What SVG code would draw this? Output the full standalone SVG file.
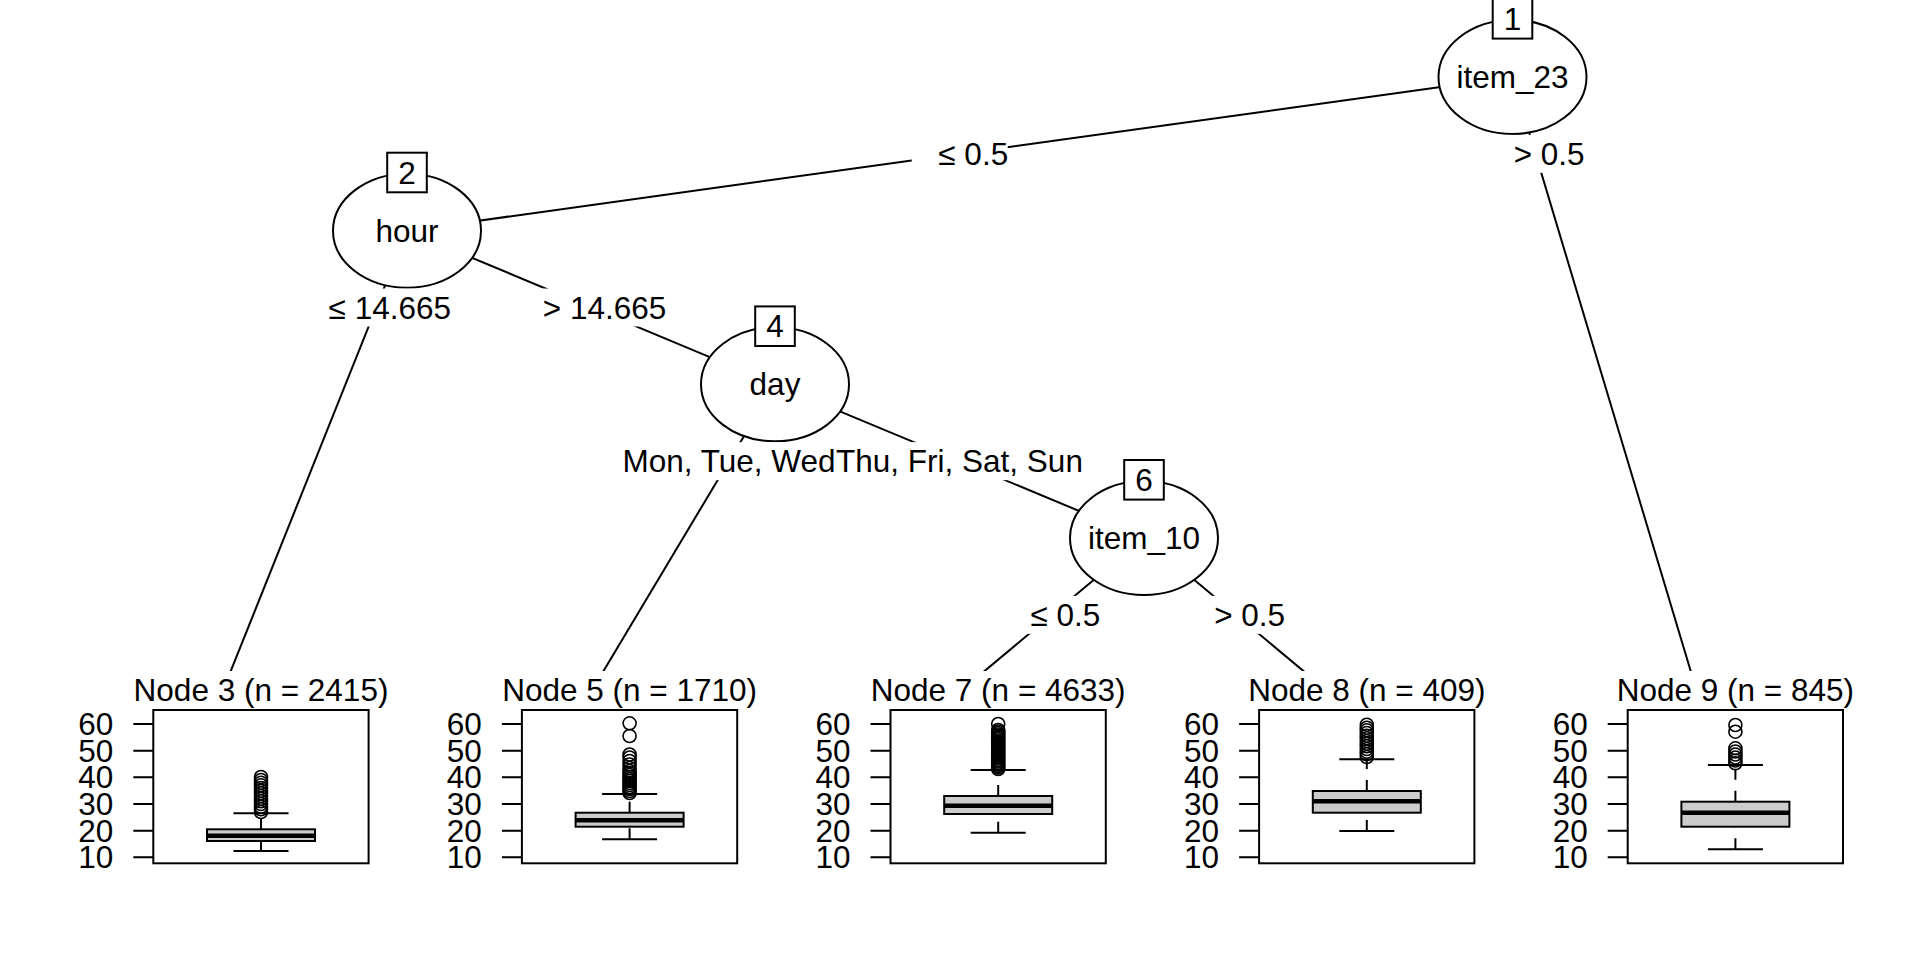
<svg xmlns="http://www.w3.org/2000/svg" width="1920" height="960" viewBox="0 0 1920 960">
<style>
text{font-family:"Liberation Sans",Arial,sans-serif;font-size:31.5px;fill:#000}
.m{text-anchor:middle}
.e{text-anchor:end}
.edge{stroke:#000;stroke-width:2;fill:none}
.ell{fill:#fff;stroke:#000;stroke-width:2}
.idb{fill:#fff;stroke:#000;stroke-width:2}
.bg{fill:#fff;stroke:none}
.panel{fill:#fff;stroke:#000;stroke-width:2}
.tick{stroke:#000;stroke-width:2;fill:none}
.box{fill:#cccccc;stroke:#000;stroke-width:2}
.med{stroke:#000;stroke-width:4.5}
.wh{stroke:#000;stroke-width:2;stroke-dasharray:11 11}
.cap{stroke:#000;stroke-width:2}
.out{fill:none;stroke:#000;stroke-width:1.6}
</style>
<rect width="1920" height="960" fill="#fff"/>
<g id="connectors">
<line class="edge" x1="1512.5" y1="77" x2="407" y2="230.7"/>
<line class="edge" x1="1512.5" y1="77" x2="1696.9" y2="691.7"/>
<line class="edge" x1="407" y1="230.7" x2="222.5" y2="691.7"/>
<line class="edge" x1="407" y1="230.7" x2="775" y2="384.3"/>
<line class="edge" x1="775" y1="384.3" x2="591.1" y2="691.7"/>
<line class="edge" x1="775" y1="384.3" x2="1144" y2="538"/>
<line class="edge" x1="1144" y1="538" x2="959.7" y2="691.7"/>
<line class="edge" x1="1144" y1="538" x2="1328.3" y2="691.7"/>
</g>
<g id="node1">
<ellipse class="ell" cx="1512.5" cy="77" rx="74" ry="57"/>
<text class="m" x="1512.5" y="88">item_23</text>
<rect class="idb" x="1492.7" y="-1" width="39.6" height="39.6"/>
<text class="m" x="1512.5" y="30">1</text>
</g>
<g id="node2">
<ellipse class="ell" cx="407" cy="230.7" rx="74" ry="57"/>
<text class="m" x="407" y="241.7">hour</text>
<rect class="idb" x="387.2" y="152.7" width="39.6" height="39.6"/>
<text class="m" x="407" y="183.7">2</text>
</g>
<g id="node4">
<ellipse class="ell" cx="775" cy="384.3" rx="74" ry="57"/>
<text class="m" x="775" y="395.3">day</text>
<rect class="idb" x="755.2" y="306.4" width="39.6" height="39.6"/>
<text class="m" x="775" y="337.4">4</text>
</g>
<g id="node6">
<ellipse class="ell" cx="1144" cy="538" rx="74" ry="57"/>
<text class="m" x="1144" y="549">item_10</text>
<rect class="idb" x="1124.2" y="460" width="39.6" height="39.6"/>
<text class="m" x="1144" y="491">6</text>
</g>
<g id="edge-labels">
<rect class="bg" x="911.75" y="134.85" width="96" height="38"/>
<text class="m" x="973.25" y="164.85">≤ 0.5</text>
<rect class="bg" x="1487.6" y="134.85" width="96" height="38"/>
<text class="m" x="1549.1" y="164.85">&gt; 0.5</text>
<rect class="bg" x="302.3" y="288.5" width="148" height="38"/>
<text class="m" x="389.8" y="318.5">≤ 14.665</text>
<rect class="bg" x="517" y="288.5" width="148" height="38"/>
<text class="m" x="604.5" y="318.5">&gt; 14.665</text>
<rect class="bg" x="621" y="442.15" width="216" height="38"/>
<text class="m" x="729" y="472.15">Mon, Tue, Wed</text>
<rect class="bg" x="834.5" y="442.15" width="250" height="38"/>
<text class="m" x="959.5" y="472.15">Thu, Fri, Sat, Sun</text>
<rect class="bg" x="1003.85" y="595.85" width="96" height="38"/>
<text class="m" x="1065.35" y="625.85">≤ 0.5</text>
<rect class="bg" x="1188.15" y="595.85" width="96" height="38"/>
<text class="m" x="1249.65" y="625.85">&gt; 0.5</text>
</g>
<defs>
<g id="axis">
<path class="tick" d="M-20 724H0M-20 750.67H0M-20 777.33H0M-20 804H0M-20 830.67H0M-20 857.33H0"/>
<text class="e" x="-40" y="735">60</text>
<text class="e" x="-40" y="761.67">50</text>
<text class="e" x="-40" y="788.33">40</text>
<text class="e" x="-40" y="815">30</text>
<text class="e" x="-40" y="841.67">20</text>
<text class="e" x="-40" y="868.33">10</text>
</g>
</defs>
<g id="node3" transform="translate(153.3,0)">
<rect class="bg" x="-80" y="671" width="297" height="200"/>
<text class="m" x="107.7" y="701">Node 3 (n = 2415)</text>
<rect class="panel" x="0" y="710" width="215.3" height="153.3"/>
<use href="#axis"/>
<line class="wh" x1="107.7" y1="851" x2="107.7" y2="841"/>
<line class="wh" x1="107.7" y1="829.3" x2="107.7" y2="813.3"/>
<line class="cap" x1="80.2" y1="851" x2="135.2" y2="851"/>
<line class="cap" x1="80.2" y1="813.3" x2="135.2" y2="813.3"/>
<rect class="box" x="53.7" y="829.3" width="108" height="11.7"/>
<line class="med" x1="53.7" y1="835.7" x2="161.7" y2="835.7"/>
<g class="out">
<circle cx="107.7" cy="812" r="6.5"/><circle cx="107.7" cy="809.3" r="6.5"/><circle cx="107.7" cy="806.7" r="6.5"/><circle cx="107.7" cy="804" r="6.5"/><circle cx="107.7" cy="801.3" r="6.5"/><circle cx="107.7" cy="798.7" r="6.5"/><circle cx="107.7" cy="796" r="6.5"/><circle cx="107.7" cy="793.3" r="6.5"/><circle cx="107.7" cy="790.7" r="6.5"/><circle cx="107.7" cy="788" r="6.5"/><circle cx="107.7" cy="785.3" r="6.5"/><circle cx="107.7" cy="782.7" r="6.5"/><circle cx="107.7" cy="780" r="6.5"/><circle cx="107.7" cy="777" r="6.5"/>
</g>
</g>
<g id="node5" transform="translate(521.9,0)">
<rect class="bg" x="-80" y="671" width="297" height="200"/>
<text class="m" x="107.7" y="701">Node 5 (n = 1710)</text>
<rect class="panel" x="0" y="710" width="215.3" height="153.3"/>
<use href="#axis"/>
<line class="wh" x1="107.7" y1="839.3" x2="107.7" y2="826.7"/>
<line class="wh" x1="107.7" y1="812.7" x2="107.7" y2="794"/>
<line class="cap" x1="80.2" y1="839.3" x2="135.2" y2="839.3"/>
<line class="cap" x1="80.2" y1="794" x2="135.2" y2="794"/>
<rect class="box" x="53.7" y="812.7" width="108" height="14"/>
<line class="med" x1="53.7" y1="820.3" x2="161.7" y2="820.3"/>
<g class="out">
<circle cx="107.7" cy="793" r="6.5"/><circle cx="107.7" cy="791" r="6.5"/><circle cx="107.7" cy="789" r="6.5"/><circle cx="107.7" cy="787" r="6.5"/><circle cx="107.7" cy="785" r="6.5"/><circle cx="107.7" cy="783" r="6.5"/><circle cx="107.7" cy="781" r="6.5"/><circle cx="107.7" cy="779" r="6.5"/><circle cx="107.7" cy="777" r="6.5"/><circle cx="107.7" cy="775" r="6.5"/><circle cx="107.7" cy="773" r="6.5"/><circle cx="107.7" cy="771" r="6.5"/><circle cx="107.7" cy="768" r="6.5"/><circle cx="107.7" cy="764.5" r="6.5"/><circle cx="107.7" cy="761" r="6.5"/><circle cx="107.7" cy="757.5" r="6.5"/><circle cx="107.7" cy="754.5" r="6.5"/><circle cx="107.7" cy="736" r="6.5"/><circle cx="107.7" cy="723.3" r="6.5"/>
</g>
</g>
<g id="node7" transform="translate(890.5,0)">
<rect class="bg" x="-80" y="671" width="297" height="200"/>
<text class="m" x="107.7" y="701">Node 7 (n = 4633)</text>
<rect class="panel" x="0" y="710" width="215.3" height="153.3"/>
<use href="#axis"/>
<line class="wh" x1="107.7" y1="832.7" x2="107.7" y2="814"/>
<line class="wh" x1="107.7" y1="796" x2="107.7" y2="770"/>
<line class="cap" x1="80.2" y1="832.7" x2="135.2" y2="832.7"/>
<line class="cap" x1="80.2" y1="770" x2="135.2" y2="770"/>
<rect class="box" x="53.7" y="796" width="108" height="18"/>
<line class="med" x1="53.7" y1="805.7" x2="161.7" y2="805.7"/>
<g class="out">
<circle cx="107.7" cy="769" r="6.5"/><circle cx="107.7" cy="767.5" r="6.5"/><circle cx="107.7" cy="766" r="6.5"/><circle cx="107.7" cy="764.5" r="6.5"/><circle cx="107.7" cy="763" r="6.5"/><circle cx="107.7" cy="761.5" r="6.5"/><circle cx="107.7" cy="760" r="6.5"/><circle cx="107.7" cy="758.5" r="6.5"/><circle cx="107.7" cy="757" r="6.5"/><circle cx="107.7" cy="755.5" r="6.5"/><circle cx="107.7" cy="754" r="6.5"/><circle cx="107.7" cy="752.5" r="6.5"/><circle cx="107.7" cy="751" r="6.5"/><circle cx="107.7" cy="749.5" r="6.5"/><circle cx="107.7" cy="748" r="6.5"/><circle cx="107.7" cy="746.5" r="6.5"/><circle cx="107.7" cy="745" r="6.5"/><circle cx="107.7" cy="743.5" r="6.5"/><circle cx="107.7" cy="742" r="6.5"/><circle cx="107.7" cy="740.5" r="6.5"/><circle cx="107.7" cy="739" r="6.5"/><circle cx="107.7" cy="737.5" r="6.5"/><circle cx="107.7" cy="736" r="6.5"/><circle cx="107.7" cy="734.5" r="6.5"/><circle cx="107.7" cy="733" r="6.5"/><circle cx="107.7" cy="731.5" r="6.5"/><circle cx="107.7" cy="730" r="6.5"/><circle cx="107.7" cy="724" r="6.5"/>
</g>
</g>
<g id="node8" transform="translate(1259.1,0)">
<rect class="bg" x="-80" y="671" width="297" height="200"/>
<text class="m" x="107.7" y="701">Node 8 (n = 409)</text>
<rect class="panel" x="0" y="710" width="215.3" height="153.3"/>
<use href="#axis"/>
<line class="wh" x1="107.7" y1="831" x2="107.7" y2="812.7"/>
<line class="wh" x1="107.7" y1="791" x2="107.7" y2="759.3"/>
<line class="cap" x1="80.2" y1="831" x2="135.2" y2="831"/>
<line class="cap" x1="80.2" y1="759.3" x2="135.2" y2="759.3"/>
<rect class="box" x="53.7" y="791" width="108" height="21.7"/>
<line class="med" x1="53.7" y1="801.3" x2="161.7" y2="801.3"/>
<g class="out">
<circle cx="107.7" cy="757" r="6.5"/><circle cx="107.7" cy="754.3" r="6.5"/><circle cx="107.7" cy="751.7" r="6.5"/><circle cx="107.7" cy="749" r="6.5"/><circle cx="107.7" cy="746.3" r="6.5"/><circle cx="107.7" cy="743.7" r="6.5"/><circle cx="107.7" cy="741" r="6.5"/><circle cx="107.7" cy="738.3" r="6.5"/><circle cx="107.7" cy="735.7" r="6.5"/><circle cx="107.7" cy="733" r="6.5"/><circle cx="107.7" cy="730.3" r="6.5"/><circle cx="107.7" cy="727.7" r="6.5"/><circle cx="107.7" cy="724.7" r="6.5"/>
</g>
</g>
<g id="node9" transform="translate(1627.7,0)">
<rect class="bg" x="-80" y="671" width="297" height="200"/>
<text class="m" x="107.7" y="701">Node 9 (n = 845)</text>
<rect class="panel" x="0" y="710" width="215.3" height="153.3"/>
<use href="#axis"/>
<line class="wh" x1="107.7" y1="849.3" x2="107.7" y2="826.7"/>
<line class="wh" x1="107.7" y1="801.7" x2="107.7" y2="765"/>
<line class="cap" x1="80.2" y1="849.3" x2="135.2" y2="849.3"/>
<line class="cap" x1="80.2" y1="765" x2="135.2" y2="765"/>
<rect class="box" x="53.7" y="801.7" width="108" height="25"/>
<line class="med" x1="53.7" y1="812.7" x2="161.7" y2="812.7"/>
<g class="out">
<circle cx="107.7" cy="763.3" r="6.5"/><circle cx="107.7" cy="760.5" r="6.5"/><circle cx="107.7" cy="757.5" r="6.5"/><circle cx="107.7" cy="754.5" r="6.5"/><circle cx="107.7" cy="751.5" r="6.5"/><circle cx="107.7" cy="748.3" r="6.5"/><circle cx="107.7" cy="731.7" r="6.5"/><circle cx="107.7" cy="725" r="6.5"/>
</g>
</g>
</svg>
